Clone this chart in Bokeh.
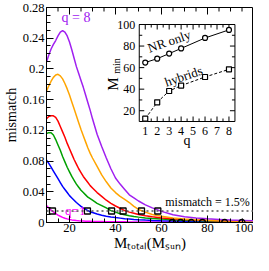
import numpy as np
from bokeh.plotting import figure
from bokeh.models import (Range1d, LinearAxis, FixedTicker, NumeralTickFormatter, Span)
from bokeh.embed import file_html
from bokeh.resources import INLINE

# ---------------- data ----------------
M_total = [10, 11, 12, 13, 14, 15, 16, 17, 18, 19, 20, 21, 22, 23, 24, 25, 26, 27, 28, 29, 30,
           32, 34, 36, 38, 40, 42, 44, 46, 48, 50,
           53, 56, 60, 65, 70, 75, 80, 85, 90, 95, 100]

mm_q1 = [0.022, 0.0188, 0.0162, 0.0138, 0.0116, 0.0097, 0.0081, 0.0067, 0.0056, 0.0047, 0.0040,
         0.0034, 0.0030, 0.0026, 0.0023, 0.0021, 0.0019, 0.0017, 0.0016, 0.0015, 0.0014,
         0.0013, 0.0012, 0.0011, 0.0010, 0.0010, 0.0009, 0.0009, 0.0008, 0.0008, 0.0008,
         0.0007, 0.0007, 0.0006, 0.0006, 0.0005, 0.0005, 0.0005, 0.0004, 0.0004, 0.0004, 0.0004]
mm_q2 = [0.081, 0.077, 0.072, 0.067, 0.062, 0.057, 0.052, 0.047, 0.043, 0.039, 0.035,
         0.032, 0.029, 0.026, 0.0235, 0.021, 0.019, 0.017, 0.0155, 0.014, 0.013,
         0.011, 0.0095, 0.0082, 0.0072, 0.0064, 0.0057, 0.0050, 0.0045, 0.0040, 0.0036,
         0.0031, 0.0027, 0.0023, 0.0020, 0.0017, 0.0015, 0.0013, 0.0012, 0.0011, 0.0010, 0.0009]
mm_q3 = [0.116, 0.117, 0.117, 0.114, 0.108, 0.101, 0.094, 0.086, 0.079, 0.072, 0.066,
         0.060, 0.055, 0.050, 0.046, 0.042, 0.039, 0.036, 0.033, 0.031, 0.029,
         0.025, 0.022, 0.019, 0.0155, 0.0135, 0.0115, 0.010, 0.0088, 0.0078, 0.0070,
         0.0060, 0.0052, 0.0044, 0.0036, 0.0030, 0.0025, 0.0021, 0.0018, 0.0015, 0.0013, 0.0012]
mm_q4 = [0.135, 0.138, 0.139, 0.139, 0.137, 0.132, 0.125, 0.118, 0.111, 0.103, 0.096,
         0.089, 0.082, 0.076, 0.070, 0.065, 0.060, 0.056, 0.052, 0.048, 0.045,
         0.039, 0.034, 0.029, 0.025, 0.0215, 0.0185, 0.0155, 0.0135, 0.012, 0.0105,
         0.0088, 0.0074, 0.0060, 0.0048, 0.0038, 0.0031, 0.0026, 0.0022, 0.0018, 0.0016, 0.0014]
mm_q6 = [0.171, 0.178, 0.184, 0.189, 0.192, 0.193, 0.191, 0.187, 0.181, 0.174, 0.166,
         0.157, 0.148, 0.139, 0.130, 0.121, 0.113, 0.105, 0.097, 0.090, 0.084,
         0.073, 0.062, 0.053, 0.045, 0.039, 0.034, 0.030, 0.026, 0.021, 0.017,
         0.0135, 0.0105, 0.0080, 0.0060, 0.0045, 0.0035, 0.0030, 0.0024, 0.0020, 0.0017, 0.0015]
mm_q8 = [0.209, 0.218, 0.226, 0.232, 0.237, 0.243, 0.248, 0.250, 0.248, 0.243, 0.235,
         0.225, 0.214, 0.203, 0.194, 0.185, 0.176, 0.166, 0.156, 0.146, 0.135,
         0.115, 0.099, 0.084, 0.070, 0.058, 0.050, 0.043, 0.036, 0.032, 0.028,
         0.023, 0.019, 0.0145, 0.010, 0.0075, 0.006, 0.0048, 0.004, 0.0032, 0.0027, 0.0022]

q_values = [1, 2, 3, 4, 6, 8]
M_min_nr_only = [64.7, 68.3, 73.0, 77.8, 87.5, 95.0]
M_min_hybrids = [12.6, 27.8, 38.3, 43.3, 51.3, 58.4]
threshold = 0.015

x_major = [20, 40, 60, 80, 100]
x_minor = list(range(10, 101, 5))
y_major = [0, 0.04, 0.08, 0.12, 0.16, 0.20, 0.24, 0.28]
y_minor = [round(0.01 * k, 2) for k in range(0, 29)]
q_major = [1, 2, 3, 4, 5, 6, 7, 8]
q_minor = [1.5, 2.5, 3.5, 4.5, 5.5, 6.5, 7.5]
m_major = [20, 40, 60, 80, 100]
m_minor = [30, 50, 70, 90]

# ---------------- layout ----------------
FONT = "Liberation Serif"
W, H = 253, 255
FL, FR, FT, FB = 41, 253, 7, 222           # frame edges in canvas px
IL, IR, IT, IB = 136, 234, 24, 121         # inset edges in canvas px
X0, X1, Y0, Y1 = 10, 100, 0, 0.28          # main axis limits
QX0, QX1, MY0, MY1 = 0.5, 8.5, 10, 100     # inset axis limits

p = figure(width=W, height=H, x_range=Range1d(X0, X1), y_range=Range1d(Y0, Y1),
           output_backend="svg", toolbar_location=None,
           min_border_left=FL, min_border_right=W - FR, min_border_top=FT,
           min_border_bottom=H - FB, x_axis_type=None, y_axis_type=None)
p.outline_line_color = "black"
p.outline_line_width = 1
p.xgrid.visible = False
p.ygrid.visible = False
p.background_fill_color = "white"
p.border_fill_color = "white"

def style_axis(ax):
    ax.major_tick_in = 7
    ax.major_tick_out = 0
    ax.minor_tick_in = 4
    ax.minor_tick_out = 0
    ax.axis_line_color = "black"
    ax.major_tick_line_color = "black"
    ax.minor_tick_line_color = "black"
    ax.major_label_text_font = FONT
    ax.major_label_text_color = "black"
    ax.major_label_text_font_size = "12.5px"
    ax.major_label_standoff = 2
    ax.axis_label_text_font = FONT
    ax.axis_label_text_font_style = "normal"
    ax.axis_label_text_color = "black"
    ax.axis_label_standoff = 1

xb = LinearAxis(ticker=FixedTicker(ticks=x_major, minor_ticks=x_minor),
                axis_label="M\u209c\u2092\u209c\u2090\u2097(M\u209b\u1d64\u2099)")
style_axis(xb)
xb.major_label_standoff = 1
xb.axis_label_standoff = 0
xb.axis_label_text_font_size = "15px"
p.add_layout(xb, "below")
yl = LinearAxis(ticker=FixedTicker(ticks=y_major, minor_ticks=y_minor),
                formatter=NumeralTickFormatter(format="0.[00]"), axis_label="mismatch")
style_axis(yl)
yl.axis_label_text_font_size = "14px"
p.add_layout(yl, "left")

# inset coordinate system through extra ranges
fxl = (IL - FL) / (FR - FL)
fxr = (IR - FL) / (FR - FL)
fyb = (FB - IB) / (FB - FT)
fyt = (FB - IT) / (FB - FT)
sx = (QX1 - QX0) / (fxr - fxl)
sy = (MY1 - MY0) / (fyt - fyb)
p.extra_x_ranges = {"ix": Range1d(QX0 - fxl * sx, QX0 - fxl * sx + sx)}
p.extra_y_ranges = {"iy": Range1d(MY0 - fyb * sy, MY0 - fyb * sy + sy)}
IN = dict(x_range_name="ix", y_range_name="iy")

# ticks on the top edge of the main frame
p.ray(x=x_major, y=[Y1] * len(x_major), length=7, angle=-np.pi / 2, length_units="screen",
      line_color="black", line_width=1)
p.ray(x=x_minor, y=[Y1] * len(x_minor), length=4, angle=-np.pi / 2, length_units="screen",
      line_color="black", line_width=1)

# ---------------- main curves ----------------
curves = [(mm_q1, "#ff00ff"), (mm_q2, "#0000ff"), (mm_q3, "#00a000"),
          (mm_q4, "#ff0000"), (mm_q6, "#ffa500"), (mm_q8, "#a020f0")]
for ys, col in curves:
    p.line(M_total, ys, line_color=col, line_width=1.5)

p.add_layout(Span(location=threshold, dimension="width", line_color="#555555",
                  line_width=1.5, line_dash="2 3"))

p.scatter(M_min_hybrids, [threshold] * len(M_min_hybrids), marker="square", size=6,
          line_color="black", line_width=1.3, fill_color=None)
p.scatter(M_min_nr_only, [0] * len(M_min_nr_only), marker="circle", size=6,
          line_color="black", line_width=1.3, fill_color=None)

p.text(x=[22.8], y=[0.267], text=["q = 8"], text_color="#a020f0", text_font=FONT,
       text_font_size="14px", text_align="center", text_baseline="middle")
p.text(x=[22.5], y=[threshold], text=["q=1"], text_color="#ff00ff", text_font=FONT,
       text_font_size="13px", text_align="center", text_baseline="middle")
p.text(x=[80], y=[threshold], text=["mismatch = 1.5%"], text_color="black", text_font=FONT,
       text_font_size="12px", text_align="center", text_baseline="bottom", y_offset=-2)

# ---------------- inset ----------------
p.quad(left=[QX0], right=[QX1], bottom=[MY0], top=[MY1], fill_color="white",
       line_color="black", line_width=1, **IN)
for xs, ln in ((q_major, 5), (q_minor, 3)):
    p.ray(x=xs, y=[MY0] * len(xs), length=ln, angle=np.pi / 2, length_units="screen",
          line_color="black", line_width=1, **IN)
    p.ray(x=xs, y=[MY1] * len(xs), length=ln, angle=-np.pi / 2, length_units="screen",
          line_color="black", line_width=1, **IN)
for ys, ln in ((m_major, 5), (m_minor, 3)):
    p.ray(x=[QX0] * len(ys), y=ys, length=ln, angle=0, length_units="screen",
          line_color="black", line_width=1, **IN)
    p.ray(x=[QX1] * len(ys), y=ys, length=ln, angle=np.pi, length_units="screen",
          line_color="black", line_width=1, **IN)

p.text(x=q_major, y=[MY0] * len(q_major), text=[str(v) for v in q_major], y_offset=9,
       text_font=FONT, text_font_size="12px", text_align="center", text_baseline="middle",
       text_color="black", **IN)
p.text(x=[QX0] * len(m_major), y=m_major, text=[str(v) for v in m_major], x_offset=-4,
       text_font=FONT, text_font_size="12px", text_align="right", text_baseline="middle",
       text_color="black", **IN)
p.text(x=[(QX0 + QX1) / 2], y=[MY0], text=["q"], y_offset=19, text_font=FONT,
       text_font_size="14px", text_align="center", text_baseline="middle",
       text_color="black", **IN)
p.text(x=[QX0], y=[(MY0 + MY1) / 2], text=["M"], x_offset=-26, y_offset=11, angle=np.pi / 2,
       text_font=FONT, text_font_size="15px", text_align="center", text_baseline="alphabetic",
       text_color="black", **IN)
p.text(x=[QX0], y=[(MY0 + MY1) / 2], text=["min"], x_offset=-23, y_offset=-7, angle=np.pi / 2,
       text_font=FONT, text_font_size="10px", text_align="center", text_baseline="alphabetic",
       text_color="black", **IN)

p.line(q_values, M_min_nr_only, line_color="black", line_width=1, **IN)
p.scatter(q_values, M_min_nr_only, marker="circle", size=5, line_color="black",
          line_width=1.2, fill_color="white", **IN)
p.line(q_values, M_min_hybrids, line_color="black", line_width=1, line_dash="3 2", **IN)
p.scatter(q_values, M_min_hybrids, marker="square", size=5, line_color="black",
          line_width=1.2, fill_color="white", **IN)

p.text(x=[3.0], y=[84.5], text=["NR only"], angle=0.33, text_font=FONT, text_font_size="13px",
       text_align="center", text_baseline="middle", text_color="black", **IN)
p.text(x=[4.2], y=[52], text=["hybrids"], angle=0.33, text_font=FONT, text_font_size="13px",
       text_align="center", text_baseline="middle", text_color="black", **IN)

open("out.html", "w").write(file_html(p, INLINE))
